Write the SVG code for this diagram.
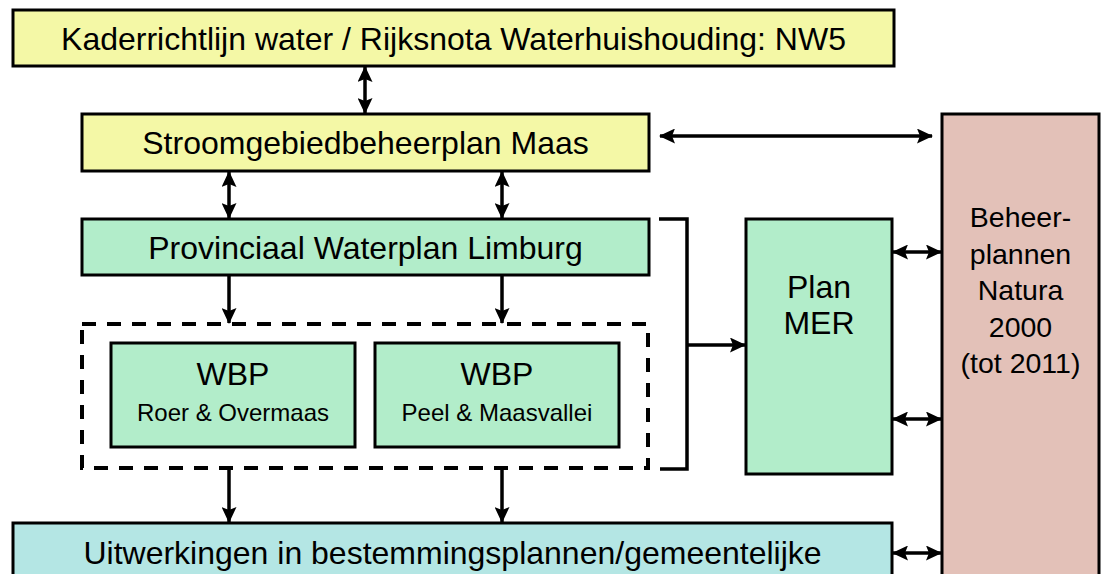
<svg xmlns="http://www.w3.org/2000/svg" width="1102" height="574" viewBox="0 0 1102 574">
<style>
.box{stroke:#000;stroke-width:3}
.y{fill:#F4F8A6}
.g{fill:#B2EDCA}
.c{fill:#B4E6E4}
.p{fill:#E3C1B8}
text{font-family:"Liberation Sans",Arial,sans-serif;fill:#000;text-anchor:middle}
.t32{font-size:32px}
.t28{font-size:28.5px}
.t24{font-size:24px}
.ln{stroke:#000;stroke-width:3.5;fill:none}
</style>
<defs>
<marker id="ah" viewBox="0 0 16 15" refX="15" refY="7.5" markerWidth="16" markerHeight="15" markerUnits="userSpaceOnUse" orient="auto-start-reverse">
<path d="M0,0 L16,7.5 L0,15 L3,7.5 z" fill="#000"/>
</marker>
</defs>
<rect width="1102" height="574" fill="#fff"/>
<g id="kaderrichtlijn">
<rect class="box y" x="13" y="10" width="881" height="56"/>
<text class="t32" x="453.5" y="49.5">Kaderrichtlijn water / Rijksnota Waterhuishouding: NW5</text>
</g>
<g id="stroomgebied">
<rect class="box y" x="82" y="114" width="567" height="57"/>
<text class="t32" x="365.5" y="154">Stroomgebiedbeheerplan Maas</text>
</g>
<g id="provinciaal">
<rect class="box g" x="82" y="219" width="567" height="56"/>
<text class="t32" x="365.5" y="258.5">Provinciaal Waterplan Limburg</text>
</g>
<g id="wbp-group">
<rect x="82" y="324" width="566" height="144" fill="none" stroke="#000" stroke-width="4" stroke-dasharray="14,11"/>
</g>
<g id="wbp-roer">
<rect class="box g" x="111" y="343" width="244" height="104"/>
<text class="t32" x="233" y="385">WBP</text>
<text class="t24" x="233" y="420.5">Roer &amp; Overmaas</text>
</g>
<g id="wbp-peel">
<rect class="box g" x="375" y="343" width="244" height="104"/>
<text class="t32" x="497" y="385">WBP</text>
<text class="t24" x="497" y="420.5">Peel &amp; Maasvallei</text>
</g>
<g id="planmer">
<rect class="box g" x="746" y="219" width="146" height="255"/>
<text class="t32" x="819" y="298">Plan</text>
<text class="t32" x="819" y="334">MER</text>
</g>
<g id="beheerplannen">
<rect class="box p" x="942" y="114" width="157" height="480"/>
<text class="t28" x="1020.5" y="227">Beheer-</text>
<text class="t28" x="1020.5" y="263.5">plannen</text>
<text class="t28" x="1020.5" y="300">Natura</text>
<text class="t28" x="1020.5" y="336.5">2000</text>
<text class="t28" x="1020.5" y="373">(tot 2011)</text>
</g>
<g id="uitwerkingen">
<rect class="box c" x="13" y="523" width="879" height="80"/>
<text class="t32" x="452.5" y="563.5">Uitwerkingen in bestemmingsplannen/gemeentelijke</text>
</g>
<g id="connectors">
<line class="ln" x1="365" y1="67" x2="365" y2="113" marker-start="url(#ah)" marker-end="url(#ah)"/>
<line class="ln" x1="229" y1="172" x2="229" y2="218" marker-start="url(#ah)" marker-end="url(#ah)"/>
<line class="ln" x1="502" y1="172" x2="502" y2="218" marker-start="url(#ah)" marker-end="url(#ah)"/>
<line class="ln" x1="660" y1="136" x2="932" y2="136" marker-start="url(#ah)" marker-end="url(#ah)"/>
<line class="ln" x1="229" y1="276" x2="229" y2="323" marker-end="url(#ah)"/>
<line class="ln" x1="502" y1="276" x2="502" y2="323" marker-end="url(#ah)"/>
<line class="ln" x1="229" y1="469" x2="229" y2="522" marker-end="url(#ah)"/>
<line class="ln" x1="502" y1="469" x2="502" y2="522" marker-end="url(#ah)"/>
<polyline class="ln" points="659,219 687,219 687,469 660,469"/>
<line class="ln" x1="687" y1="345" x2="745" y2="345" marker-end="url(#ah)"/>
<line class="ln" x1="893" y1="252" x2="941" y2="252" marker-start="url(#ah)" marker-end="url(#ah)"/>
<line class="ln" x1="893" y1="419" x2="941" y2="419" marker-start="url(#ah)" marker-end="url(#ah)"/>
<line class="ln" x1="893" y1="553" x2="941" y2="553" marker-start="url(#ah)" marker-end="url(#ah)"/>
</g>
</svg>
